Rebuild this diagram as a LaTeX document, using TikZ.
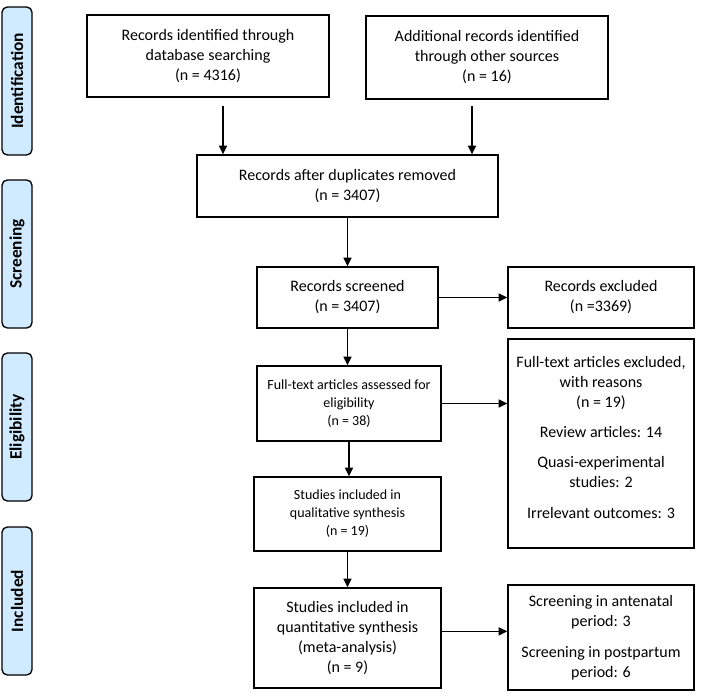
\documentclass[tikz,border=0pt]{standalone}
\usepackage{fontspec}
\setmainfont{Carlito}
\usetikzlibrary{arrows.meta}
\definecolor{phaseblue}{RGB}{208,234,255}
\begin{document}
\begin{tikzpicture}[x=0.75pt, y=-0.75pt,
  box/.style = {draw, line width=1pt, align=center, inner sep=0pt,
    font=\fontsize{12}{15}\selectfont},
  smallbox/.style = {box, font=\fontsize{10.5}{13.5}\selectfont},
  phase/.style = {draw, line width=1pt, rounded corners=4pt, fill=phaseblue,
    rotate=90, minimum width=111pt, minimum height=22.5pt, inner sep=0pt,
    font=\fontsize{13}{15}\selectfont\bfseries},
  arr/.style = {-{Triangle[length=6.5pt,width=6pt]}, line width=1pt}]
  \useasboundingbox (0,0) rectangle (712,698);

  \node[phase] (ident) at (17,81) {Identification};
  \node[phase] (screen) at (17,254) {Screening};
  \node[phase] (elig) at (17,427) {Eligibility};
  \node[phase] (incl) at (17,601) {Included};

  \node[box, minimum width=181.5pt, minimum height=61.5pt] (A) at (208,56)
    {Records identified through\\database searching\\(n = 4316)};
  \node[box, minimum width=181.5pt, minimum height=62.25pt] (B) at (487,57.5)
    {Additional records identified\\through other sources\\(n = 16)};
  \node[box, minimum width=225.75pt, minimum height=46.5pt] (C) at (347.5,186)
    {Records after duplicates removed\\(n = 3407)};
  \node[box, minimum width=135.75pt, minimum height=45.75pt] (D) at (347.5,297.5)
    {Records screened\\(n = 3407)};
  \node[box, minimum width=139.5pt, minimum height=45.75pt] (E) at (601,297.5)
    {Records excluded\\(n =3369)};
  \node[smallbox, minimum width=138pt, minimum height=56.25pt] (F) at (349,403.5)
    {Full-text articles assessed for\\eligibility\\(n = 38)};
  \node[box, minimum width=139.5pt, minimum height=156.75pt] (G) at (601,443.5)
    {Full-text articles excluded,\\with reasons\\(n = 19)\\[7pt]
     Review articles: 14\\[8pt]
     Quasi-experimental\\studies: 2\\[8pt]
     Irrelevant outcomes: 3\\[-6pt]\mbox{}};
  \node[smallbox, minimum width=140.25pt, minimum height=55.5pt] (H) at (347.5,514)
    {Studies included in\\qualitative synthesis\\(n = 19)};
  \node[box, minimum width=140.25pt, minimum height=75pt] (I) at (347.5,638)
    {Studies included in\\quantitative synthesis\\(meta-analysis)\\(n = 9)};
  \node[box, minimum width=139.5pt, minimum height=78.75pt] (J) at (601,637.5)
    {Screening in antenatal\\period: 3\\[8pt]
     Screening in postpartum\\period: 6};

  \coordinate (a1) at (223,106);
  \coordinate (b1) at (472,106);
  \draw[arr] (a1) -- (a1 |- C.north);
  \draw[arr] (b1) -- (b1 |- C.north);
  \draw[arr] (C.south) -- (C.south |- D.north);
  \draw[arr] (D.east) -- (E.west);
  \draw[arr] (D.south) -- (D.south |- F.north);
  \draw[arr] (F.east) -- (F.east -| G.west);
  \draw[arr] (F.south) -- (F.south |- H.north);
  \draw[arr] (H.south) -- (I.north);
  \draw[arr] ([yshift=5pt]I.east) -- ([yshift=5pt]I.east -| J.west);
\end{tikzpicture}
\end{document}
